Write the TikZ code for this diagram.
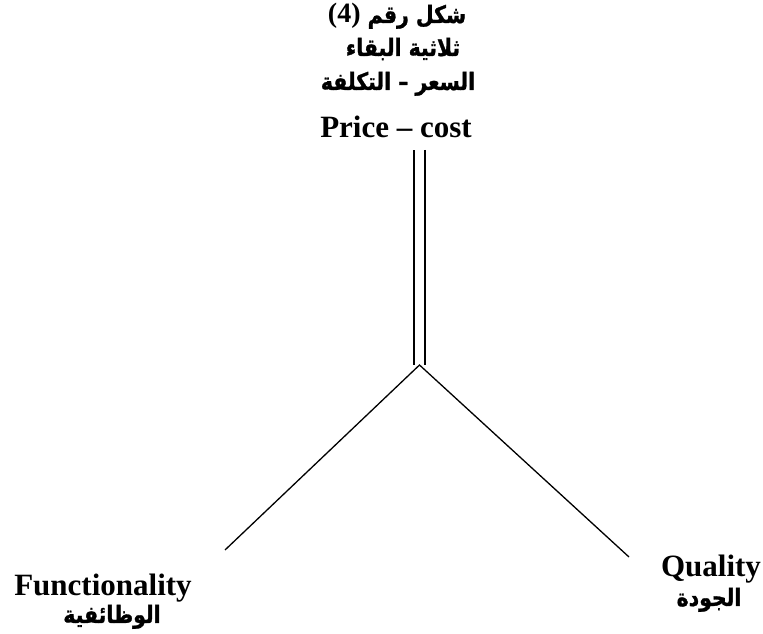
\documentclass[tikz,border=0pt]{standalone}
\usepackage{fontspec}
\setmainfont{Liberation Serif}
\newfontfamily\arabicfont[Script=Arabic, FakeBold=1.2, FakeStretch=0.85]{DejaVu Sans}
\TeXXeTstate=1
\usepackage{tikz}

\begin{document}
\begin{tikzpicture}[x=1pt,y=1pt,
  latinlbl/.style={font=\fontsize{31}{36}\selectfont\bfseries, inner sep=0pt, anchor=base},
  arablbl/.style={font=\fontsize{24}{28}\selectfont\arabicfont\bfseries, inner sep=0pt, anchor=base},
  edge/.style={line width=1.3pt}]
\useasboundingbox (0,0) rectangle (763,634);
% title lines
\node[arablbl] (figno) at (397,611) {\beginR شكل رقم \beginL{\rmfamily\fontsize{28}{30}\selectfont(4)}\endL\endR};
\node[arablbl] (triad) at (403,578) {\beginR ثلاثية البقاء\endR};
\node[arablbl] (pricear) at (398,544) {\beginR السعر – التكلفة\endR};
\node[latinlbl] (price) at (396,496) {Price -- cost};
% corner labels
\node[latinlbl] (func) at (103,38) {Functionality};
\node[arablbl] (funcar) at (112,11) {\beginR الوظائفية\endR};
\node[latinlbl] (qual) at (711,57) {Quality};
\node[arablbl] (qualar) at (709,28) {\beginR الجودة\endR};
% branches
\coordinate (top) at (419.5,484);
\coordinate (apex) at (419.5,269);
\coordinate (lend) at (225,84);
\coordinate (rend) at (629,77);
\draw[edge, double, double distance=9.7pt] (top) -- (apex);
\draw[edge] (lend) -- (apex) -- (rend);
\end{tikzpicture}
\end{document}
